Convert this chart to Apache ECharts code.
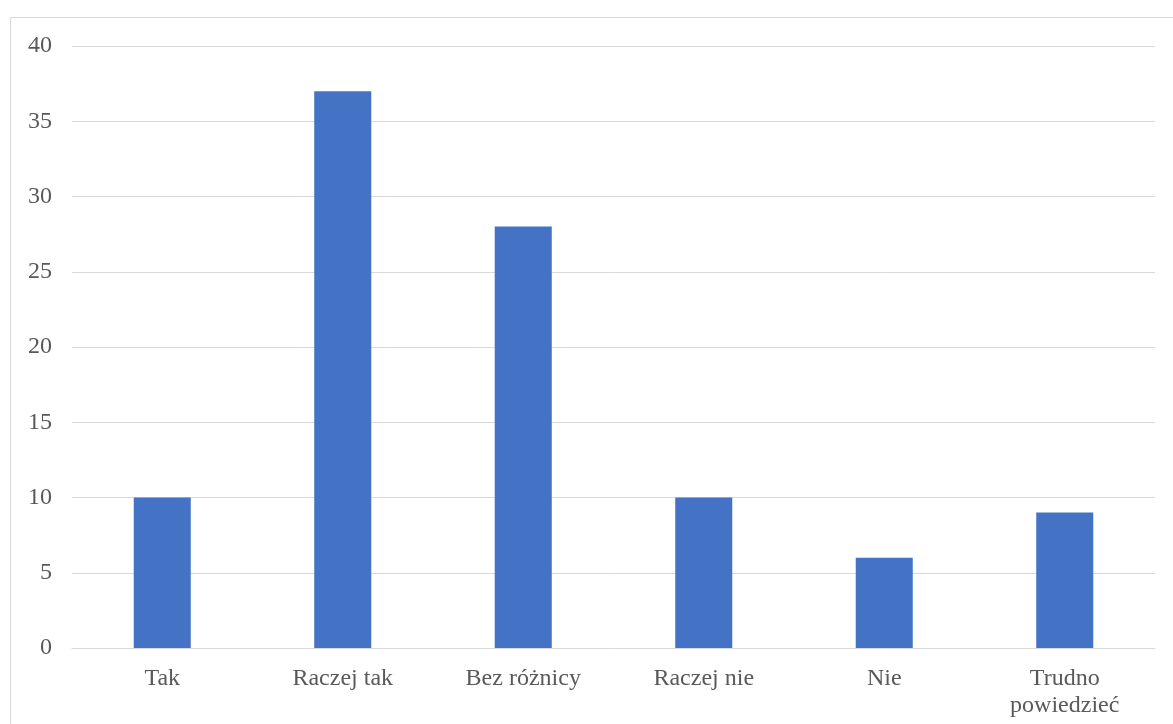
<!DOCTYPE html>
<html>
<head>
<meta charset="utf-8">
<script src="https://cdn.jsdelivr.net/npm/echarts@6/dist/echarts.min.js"></script>
<style>
  html, body { margin: 0; padding: 0; background: #ffffff; }
  #chart { width: 1173px; height: 724px; }
</style>
</head>
<body>
<div id="chart"></div>
<script>
// Answer categories and respondent counts
const categories = ['Tak', 'Raczej tak', 'Bez różnicy', 'Raczej nie', 'Nie', 'Trudno\npowiedzieć'];
const counts = [10, 37, 28, 10, 6, 9];
const yTicks = { min: 0, max: 40, interval: 5 };

const FONT = '"Liberation Serif", "Times New Roman", serif';
const TEXT = '#595959';

const chart = echarts.init(document.getElementById('chart'), null, { renderer: 'canvas' });
chart.setOption({
  animation: false,
  backgroundColor: '#ffffff',
  graphic: [{
    type: 'rect',
    silent: true,
    shape: { x: 10.5, y: 17.5, width: 1300, height: 900 },
    style: { fill: 'none', stroke: '#d9d9d9', lineWidth: 1 }
  }],
  grid: { left: 72, right: 18, top: 46, bottom: 76 },
  xAxis: {
    type: 'category',
    data: categories,
    axisLine: { show: true, lineStyle: { color: '#d9d9d9', width: 1 } },
    axisTick: { show: false },
    axisLabel: {
      color: TEXT, fontFamily: FONT, fontSize: 24, margin: 17,
      lineHeight: 27, interval: 0
    }
  },
  yAxis: {
    type: 'value',
    min: yTicks.min, max: yTicks.max, interval: yTicks.interval,
    axisLine: { show: false },
    axisTick: { show: false },
    axisLabel: { color: TEXT, fontFamily: FONT, fontSize: 24, margin: 20, padding: [4, 0, 0, 0] },
    splitLine: { lineStyle: { color: '#d9d9d9', width: 1 } }
  },
  series: [{
    type: 'bar',
    data: counts,
    barWidth: '31.6%',
    itemStyle: { color: '#4472C4' }
  }]
});
</script>
</body>
</html>
